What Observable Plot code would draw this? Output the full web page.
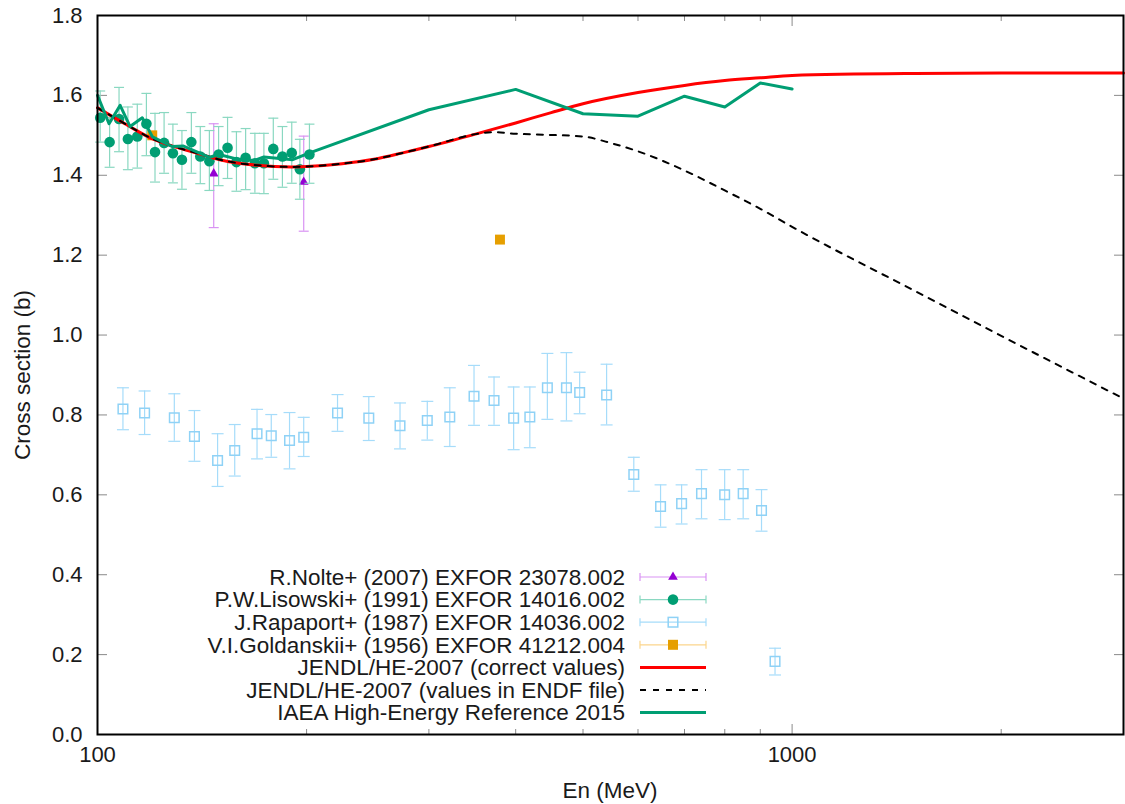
<!DOCTYPE html>
<html><head><meta charset="utf-8">
<script src="https://cdn.jsdelivr.net/npm/d3@7"></script>
<script src="https://cdn.jsdelivr.net/npm/@observablehq/plot@0.6"></script>
<style>
body{margin:0;background:#fff;}
#chart{position:relative;width:1125px;height:804px;}
</style>
</head><body><div id="chart"></div>
<script>
// ---------- data ----------
const nolteE = [147.0, 198.1];
const nolteY = [1.404, 1.383];
const nolteLo = [1.269, 1.260];
const nolteHi = [1.529, 1.498];

const lisE = [100.9,104.1,107.4,110.6,114.1,117.6,121.0,124.7,128.4,132.3,136.5,140.6,144.9,149.4,153.9,158.5,163.4,168.5,173.6,179.1,184.6,190.4,195.6,201.9];
const lisY = [1.544,1.483,1.541,1.491,1.497,1.529,1.458,1.481,1.455,1.439,1.483,1.447,1.435,1.452,1.469,1.433,1.444,1.430,1.430,1.466,1.447,1.456,1.415,1.452];
const lisHi = [1.611,1.545,1.620,1.571,1.578,1.605,1.555,1.557,1.528,1.512,1.557,1.522,1.512,1.522,1.545,1.509,1.517,1.505,1.505,1.543,1.522,1.533,1.490,1.528];
const lisLo = [1.483,1.420,1.459,1.414,1.418,1.449,1.383,1.405,1.381,1.365,1.405,1.379,1.362,1.374,1.392,1.360,1.364,1.355,1.354,1.390,1.370,1.380,1.340,1.380];

const rapE = [108.8,116.9,129.0,137.9,148.9,157.6,169.7,177.9,189.0,198.1,221.6,245.8,272.6,298.4,321.5,348.4,372.3,397.3,419.2,444.3,473.3,494.5,540.7,591.7,646.6,693.3,740.6,799.7,850.3,903.6,945];
const rapY = [0.815,0.805,0.793,0.746,0.686,0.711,0.753,0.748,0.736,0.744,0.805,0.792,0.773,0.786,0.795,0.847,0.836,0.792,0.795,0.868,0.868,0.856,0.850,0.651,0.571,0.578,0.603,0.600,0.603,0.561,0.183];
const rapHi = [0.868,0.860,0.853,0.811,0.753,0.776,0.814,0.801,0.806,0.794,0.851,0.846,0.830,0.834,0.868,0.924,0.895,0.870,0.870,0.954,0.956,0.907,0.927,0.694,0.625,0.625,0.663,0.663,0.663,0.613,0.216];
const rapLo = [0.763,0.751,0.734,0.684,0.621,0.647,0.690,0.694,0.665,0.696,0.759,0.736,0.715,0.737,0.721,0.774,0.774,0.713,0.718,0.789,0.785,0.803,0.775,0.609,0.519,0.527,0.540,0.538,0.540,0.509,0.149];

const golE = [119.9, 379.7];
const golY = [1.500, 1.239];

const jendlE = [100,110,120,130,140,150,160,170,180,190,200,225,250,275,300,350,400,450,500,600,700,800,900,1000,1500,2000,3000];
const jendlY = [1.569,1.527,1.491,1.470,1.454,1.439,1.430,1.425,1.422,1.421,1.422,1.429,1.440,1.456,1.472,1.503,1.531,1.557,1.579,1.607,1.625,1.637,1.644,1.650,1.655,1.656,1.656];

const endfE = [100,110,120,130,140,150,160,170,180,190,200,225,250,275,300,350,370,400,450,500,550,600,700,800,900,1000,1500,2000,3000];
const endfY = [1.569,1.527,1.491,1.470,1.454,1.439,1.430,1.425,1.422,1.421,1.422,1.429,1.440,1.456,1.472,1.503,1.508,1.504,1.501,1.497,1.480,1.460,1.412,1.362,1.316,1.271,1.111,0.998,0.841];

const iaeaE = [100,103.9,107.8,111.4,116,120,128,133,145,149.5,158.5,168,173.6,191,202,300,400,500,600,700,800,900,1000];
const iaeaY = [1.600,1.529,1.575,1.522,1.544,1.496,1.472,1.473,1.445,1.452,1.441,1.437,1.446,1.439,1.456,1.564,1.615,1.554,1.548,1.598,1.571,1.631,1.616];

const yTicks = [0,0.2,0.4,0.6,0.8,1.0,1.2,1.4,1.6,1.8];
const xMajor = [100, 1000];
const xMinor = [200,300,400,500,600,700,800,900,2000,3000];

const legendLabels = [
  "R.Nolte+ (2007) EXFOR 23078.002",
  "P.W.Lisowski+ (1991) EXFOR 14016.002",
  "J.Rapaport+ (1987) EXFOR 14036.002",
  "V.I.Goldanskii+ (1956) EXFOR 41212.004",
  "JENDL/HE-2007 (correct values)",
  "JENDL/HE-2007 (values in ENDF file)",
  "IAEA High-Energy Reference 2015"
];

// ---------- tables ----------
const nolte = nolteE.map((E,i)=>({E, y:nolteY[i], lo:nolteLo[i], hi:nolteHi[i]}));
const lis = lisE.map((E,i)=>({E, y:lisY[i], lo:lisLo[i], hi:lisHi[i]}));
const rap = rapE.map((E,i)=>({E, y:rapY[i], lo:rapLo[i], hi:rapHi[i]}));
const gol = golE.map((E,i)=>({E, y:golY[i]}));
const jendl = jendlE.map((E,i)=>({E, y:jendlY[i]}));
const endf = endfE.map((E,i)=>({E, y:endfY[i]}));
const iaea = iaeaE.map((E,i)=>({E, y:iaeaY[i]}));

const C = {
  nolte:"#9400d3", nolteBar:"#d993f3",
  lis:"#009e73", lisBar:"#8ad8c1",
  rap:"#8fd2f6", rapBar:"#a6dcfa",
  gol:"#e69f00", golBar:"#fbd58c",
  red:"#ff0000", green:"#009e73"
};

const cap = { draw(ctx, size){ const r = Math.sqrt(size/Math.PI); ctx.moveTo(-r,0); ctx.lineTo(r,0); } };

function errMarks(data, bar, capR){
  return [
    Plot.ruleX(data, {x:"E", y1:"lo", y2:"hi", stroke:bar, strokeWidth:1.2}),
    Plot.dot(data, {x:"E", y:"lo", symbol:cap, r:capR, stroke:bar, strokeWidth:1.2}),
    Plot.dot(data, {x:"E", y:"hi", symbol:cap, r:capR, stroke:bar, strokeWidth:1.2})
  ];
}

const tickColor = "#8a8a8a";
const FS = "22.5px";
const chart = Plot.plot({
  width:1125, height:804,
  marginLeft:97, marginRight:2, marginTop:15, marginBottom:70,
  style:{fontFamily:"'Liberation Sans', Arial, sans-serif", fontSize:"22px", color:"#1a1a1a", background:"#fff"},
  x:{type:"log", domain:[100,3000]},
  y:{domain:[0,1.8]},
  marks:[
    // axes: labels
    Plot.axisY({ticks:yTicks, tickSize:0, tickPadding:15, tickFormat:d3.format(".1f"), label:null, fontSize:22}),
    Plot.axisX({ticks:xMajor, tickSize:0, tickPadding:12, tickFormat:d3.format("d"), label:null, fontSize:22}),
    // inward ticks
    Plot.axisY({ticks:yTicks, tickSize:10, dx:10, tickFormat:()=>"", label:null, stroke:tickColor}),
    Plot.axisY({anchor:"right", ticks:yTicks, tickSize:10, dx:-10, tickFormat:()=>"", label:null, stroke:tickColor}),
    Plot.axisX({ticks:xMajor, tickSize:10, dy:-10, tickFormat:()=>"", label:null, stroke:tickColor}),
    Plot.axisX({ticks:xMinor, tickSize:5, dy:-5, tickFormat:()=>"", label:null, stroke:tickColor}),
    Plot.axisX({anchor:"top", ticks:xMajor, tickSize:10, dy:10, tickFormat:()=>"", label:null, stroke:tickColor}),
    Plot.axisX({anchor:"top", ticks:xMinor, tickSize:5, dy:5, tickFormat:()=>"", label:null, stroke:tickColor}),
    // Nolte
    ...errMarks(nolte, C.nolteBar, 5),
    Plot.dot(nolte, {x:"E", y:"y", symbol:"triangle", r:3.6, fill:C.nolte}),
    // Lisowski
    ...errMarks(lis, C.lisBar, 5),
    Plot.dot(lis, {x:"E", y:"y", r:5.3, fill:C.lis}),
    // Rapaport
    ...errMarks(rap, C.rapBar, 6),
    Plot.dot(rap, {x:"E", y:"y", symbol:"square", r:5.4, stroke:C.rap, strokeWidth:1.5, fill:"none"}),
    // Goldanskii
    Plot.dot(gol, {x:"E", y:"y", symbol:"square", r:5.6, fill:C.gol}),
    // lines
    Plot.line(jendl, {x:"E", y:"y", stroke:C.red, strokeWidth:3, curve:"monotone-x"}),
    Plot.line(endf, {x:"E", y:"y", stroke:"#000", strokeWidth:2, strokeDasharray:"6,7", curve:"monotone-x"}),
    Plot.line(iaea, {x:"E", y:"y", stroke:C.green, strokeWidth:3}),
    Plot.frame({stroke:"#000", strokeWidth:2})
  ]
});
document.getElementById("chart").appendChild(chart);

// ---------- axis titles & legend ----------
const svg = d3.select(chart);
svg.append("text").attr("transform","translate(22,375) rotate(-90)")
  .attr("text-anchor","middle").attr("dy","0.35em")
  .style("font-size",FS).attr("fill","#1a1a1a").text("Cross section (b)");
svg.append("text").attr("x",610).attr("y",790)
  .attr("text-anchor","middle").attr("dy","0.35em")
  .style("font-size",FS).attr("fill","#1a1a1a").text("En (MeV)");

const lg = svg.append("g");
const rowY = i => 577 + i*22.6;
const sx0 = 640, sx1 = 706, sxm = 673;
legendLabels.forEach((t,i)=>{
  lg.append("text").attr("x",625).attr("y",rowY(i)).attr("dy","0.35em")
    .attr("text-anchor","end").style("font-size",FS).attr("fill","#1a1a1a").text(t);
});
const errRows = [[C.nolteBar,"tri",C.nolte],[C.lisBar,"circ",C.lis],[C.rapBar,"osq",C.rap],[C.golBar,"sq",C.gol]];
errRows.forEach(([bar,m,col],i)=>{
  const y = rowY(i);
  lg.append("line").attr("x1",sx0).attr("x2",sx1).attr("y1",y).attr("y2",y).attr("stroke",bar).attr("stroke-width",1.2);
  [sx0,sx1].forEach(x=>lg.append("line").attr("x1",x).attr("x2",x).attr("y1",y-4).attr("y2",y+4).attr("stroke",bar).attr("stroke-width",1.2));
  if(m==="tri") lg.append("path").attr("d",d3.symbol(d3.symbolTriangle, Math.PI*3.6*3.6)()).attr("transform",`translate(${sxm},${y})`).attr("fill",col);
  if(m==="circ") lg.append("circle").attr("cx",sxm).attr("cy",y).attr("r",5.3).attr("fill",col);
  if(m==="osq") lg.append("rect").attr("x",sxm-4.8).attr("y",y-4.8).attr("width",9.6).attr("height",9.6).attr("fill","none").attr("stroke",col).attr("stroke-width",1.5);
  if(m==="sq") lg.append("rect").attr("x",sxm-5).attr("y",y-5).attr("width",10).attr("height",10).attr("fill",col);
});
lg.append("line").attr("x1",sx0).attr("x2",sx1).attr("y1",rowY(4)).attr("y2",rowY(4)).attr("stroke",C.red).attr("stroke-width",3);
lg.append("line").attr("x1",sx0).attr("x2",sx1).attr("y1",rowY(5)).attr("y2",rowY(5)).attr("stroke","#000").attr("stroke-width",2).attr("stroke-dasharray","6,7");
lg.append("line").attr("x1",sx0).attr("x2",sx1).attr("y1",rowY(6)).attr("y2",rowY(6)).attr("stroke",C.green).attr("stroke-width",3);
</script>
</body></html>
